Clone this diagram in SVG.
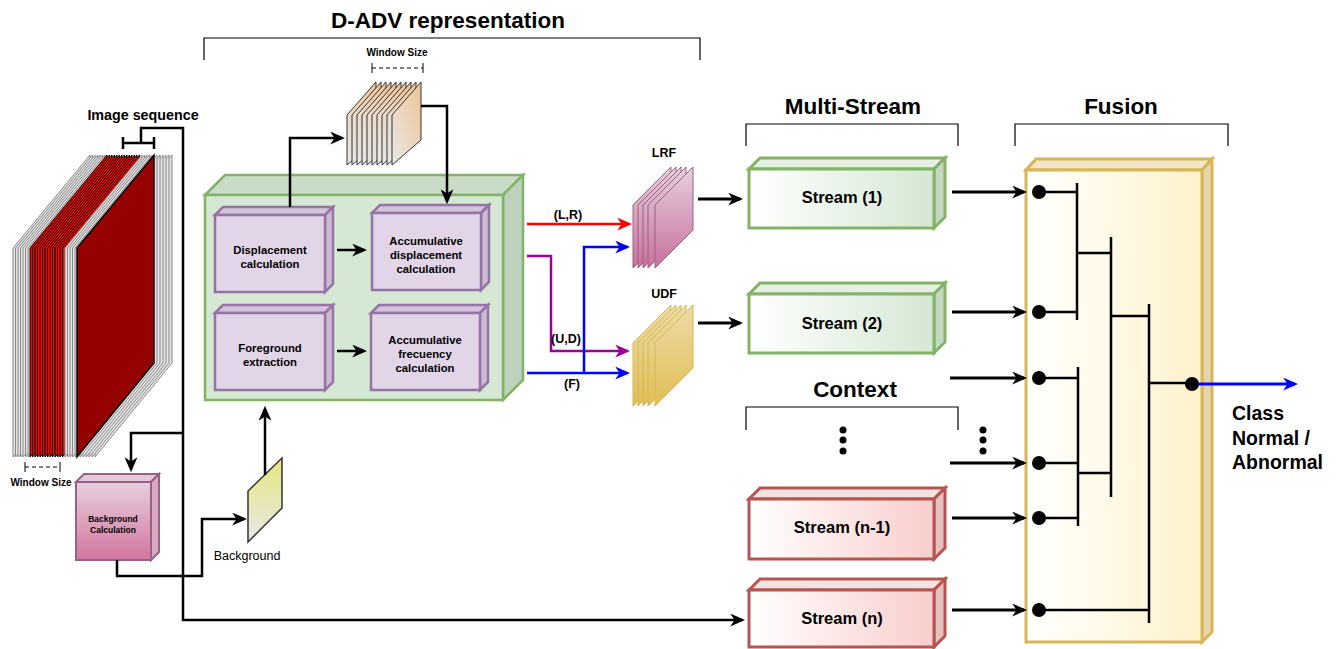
<svg xmlns="http://www.w3.org/2000/svg" width="1339" height="649" viewBox="0 0 1339 649">
<style>
text{font-family:"Liberation Sans",Arial,sans-serif;fill:#000}
.b{font-weight:bold}
.t{font-size:22.5px;font-weight:bold;text-anchor:middle}
.c{text-anchor:middle}
.ln{fill:none;stroke:#000;stroke-width:2.5}
.br{fill:none;stroke:#000;stroke-width:1.2}
.gw{fill:#e4e4e4;stroke:#8a8a8a;stroke-width:1}
.rf{fill:#ff0000;stroke:#000;stroke-width:1}
.pf{stroke:#9673a6;stroke-width:2.5}
.gf{stroke:#82b366;stroke-width:2.5}
.rs{stroke:#b85450;stroke-width:3}
.gs{stroke:#82b366;stroke-width:3}
.st{font-size:16.5px;font-weight:bold;text-anchor:middle}
</style>
<defs>
<marker id="ak" viewBox="0 0 14 12" refX="11" refY="6" markerWidth="15" markerHeight="13" markerUnits="userSpaceOnUse" orient="auto"><path d="M0,0 L14,6 L0,12 L4,6 z" fill="#000"/></marker>
<marker id="ar" viewBox="0 0 14 12" refX="11" refY="6" markerWidth="15" markerHeight="13" markerUnits="userSpaceOnUse" orient="auto"><path d="M0,0 L14,6 L0,12 L4,6 z" fill="#ff0000"/></marker>
<marker id="ab" viewBox="0 0 14 12" refX="11" refY="6" markerWidth="15" markerHeight="13" markerUnits="userSpaceOnUse" orient="auto"><path d="M0,0 L14,6 L0,12 L4,6 z" fill="#0000ff"/></marker>
<marker id="ap" viewBox="0 0 14 12" refX="11" refY="6" markerWidth="15" markerHeight="13" markerUnits="userSpaceOnUse" orient="auto"><path d="M0,0 L14,6 L0,12 L4,6 z" fill="#990099"/></marker>
<linearGradient id="gPeach" x1="1" y1="0" x2="0" y2="1"><stop offset="0" stop-color="#efc394"/><stop offset="1" stop-color="#e8e8e8"/></linearGradient>
<linearGradient id="gLRF" x1="0" y1="0" x2="0" y2="1"><stop offset="0" stop-color="#e6d0de"/><stop offset="1" stop-color="#c9709d"/></linearGradient>
<linearGradient id="gUDF" x1="0" y1="0" x2="0" y2="1"><stop offset="0" stop-color="#ecdca6"/><stop offset="1" stop-color="#e2be55"/></linearGradient>
<linearGradient id="gBGC" x1="0" y1="0" x2="0" y2="1"><stop offset="0" stop-color="#e6d0de"/><stop offset="1" stop-color="#d4749f"/></linearGradient>
<linearGradient id="gBG" x1="0" y1="0" x2="0" y2="1"><stop offset="0" stop-color="#e6e67f"/><stop offset="1" stop-color="#e8e8e8"/></linearGradient>
<linearGradient id="gGreen" x1="0" y1="0" x2="1" y2="0"><stop offset="0" stop-color="#ffffff"/><stop offset="1" stop-color="#d5e8d4"/></linearGradient>
<linearGradient id="gRed" x1="0" y1="0" x2="1" y2="0"><stop offset="0" stop-color="#ffffff"/><stop offset="1" stop-color="#f8cecc"/></linearGradient>
<linearGradient id="gYel" x1="0" y1="0" x2="1" y2="0"><stop offset="0" stop-color="#ffffff"/><stop offset="1" stop-color="#fff2cc"/></linearGradient>
</defs>

<!-- titles and brackets -->
<g id="titles">
<text class="t" x="448" y="28">D-ADV representation</text>
<path class="br" d="M204,60 V38 H700 V60"/>
<text class="t" x="853" y="114">Multi-Stream</text>
<path class="br" d="M746,146 V124 H958 V146"/>
<text class="t" x="1121" y="114">Fusion</text>
<path class="br" d="M1015,146 V124 H1228 V146"/>
<text class="t" x="855" y="397">Context</text>
<path class="br" d="M746,430 V407 H958 V430"/>
<g fill="#000"><circle cx="843" cy="430" r="3.5"/><circle cx="843" cy="440" r="3.5"/><circle cx="843" cy="451" r="3.5"/><circle cx="983" cy="430" r="3.5"/><circle cx="983" cy="440" r="3.5"/><circle cx="983" cy="451" r="3.5"/></g>
</g>

<!-- image sequence -->
<g id="image-sequence">
<g class="gw" stroke="#9a9a9a">
<polygon points="95,248 172,155 172,363 95,457"/>
<polygon points="92,248 169,155 169,363 92,457"/>
<polygon points="89,248 166,155 166,363 89,457"/>
<polygon points="86,248 163,155 163,363 86,457"/>
<polygon points="83,248 160,155 160,363 83,457"/>
<polygon points="80,248 157,155 157,363 80,457"/>
</g>
<g class="gw">
<polygon points="13,248 90,155 90,363 13,457"/>
<polygon points="15.5,248 92.5,155 92.5,363 15.5,457"/>
<polygon points="18,248 95,155 95,363 18,457"/>
<polygon points="20.5,248 97.5,155 97.5,363 20.5,457"/>
<polygon points="23,248 100,155 100,363 23,457"/>
<polygon points="25.5,248 102.5,155 102.5,363 25.5,457"/>
<polygon points="28,248 105,155 105,363 28,457"/>
</g>
<g class="rf">
<polygon points="30,248 107,155 107,363 30,457"/>
<polygon points="32.5,248 109.5,155 109.5,363 32.5,457"/>
<polygon points="35,248 112,155 112,363 35,457"/>
<polygon points="37.5,248 114.5,155 114.5,363 37.5,457"/>
<polygon points="40,248 117,155 117,363 40,457"/>
<polygon points="42.5,248 119.5,155 119.5,363 42.5,457"/>
<polygon points="45,248 122,155 122,363 45,457"/>
<polygon points="47.5,248 124.5,155 124.5,363 47.5,457"/>
<polygon points="50,248 127,155 127,363 50,457"/>
<polygon points="52.5,248 129.5,155 129.5,363 52.5,457"/>
<polygon points="55,248 132,155 132,363 55,457"/>
<polygon points="57.5,248 134.5,155 134.5,363 57.5,457"/>
<polygon points="60,248 137,155 137,363 60,457"/>
<polygon points="62.5,248 139.5,155 139.5,363 62.5,457"/>
</g>
<g class="gw">
<polygon points="65,248 142,155 142,363 65,457"/>
<polygon points="67.5,248 144.5,155 144.5,363 67.5,457"/>
<polygon points="70,248 147,155 147,363 70,457"/>
<polygon points="72.5,248 149.5,155 149.5,363 72.5,457"/>
<polygon points="75,248 152,155 152,363 75,457"/>
</g>
<polygon points="77,248 154,155 154,363 77,457" fill="#950000" stroke="#000" stroke-width="1.5"/>
<text class="b c" x="143" y="120" font-size="14.3">Image sequence</text>
<path class="ln" d="M123,143 H154 M123,137 V149 M154,137 V149"/>
<path d="M25,467 H60" fill="none" stroke="#000" stroke-width="1" stroke-dasharray="4,3"/>
<path d="M25,462 V472 M60,462 V472" fill="none" stroke="#000" stroke-width="1"/>
<text class="b c" x="41" y="486" font-size="10">Window Size</text>
</g>

<!-- window stack -->
<g id="window-stack" fill="url(#gPeach)" stroke="#333" stroke-width="1">
<polygon points="347,115 376,82 376,140 347,165"/>
<polygon points="352,115 381,82 381,140 352,165"/>
<polygon points="357,115 386,82 386,140 357,165"/>
<polygon points="362,115 391,82 391,140 362,165"/>
<polygon points="367,115 396,82 396,140 367,165"/>
<polygon points="372,115 401,82 401,140 372,165"/>
<polygon points="377,115 406,82 406,140 377,165"/>
<polygon points="382,115 411,82 411,140 382,165"/>
<polygon points="387,115 416,82 416,140 387,165"/>
<polygon points="392,115 421,82 421,140 392,165"/>
</g>
<g id="window-size-top">
<text class="b c" x="397" y="56" font-size="10">Window Size</text>
<path d="M372,68 H423" fill="none" stroke="#000" stroke-width="1" stroke-dasharray="4,3"/>
<path d="M372,63 V73 M423,63 V73" fill="none" stroke="#000" stroke-width="1"/>
</g>

<!-- green D-ADV box -->
<g id="dadv-box" class="gf">
<polygon points="205,195 225,175 523,175 503,195" fill="#c9dcc8"/>
<polygon points="503,195 523,175 523,380 503,400" fill="#bdd2bc"/>
<rect x="205" y="195" width="298" height="205" fill="#d5e8d4"/>
</g>
<g id="displacement" class="pf">
<polygon points="215,215 223,207 333,207 325,215" fill="#d3c4da"/>
<polygon points="325,215 333,207 333,284 325,292" fill="#cbbcd2"/>
<rect x="215" y="215" width="110" height="77" fill="#e1d5e7"/>
<text class="b c" x="270" y="254" font-size="11.3" stroke="none">Displacement</text>
<text class="b c" x="270" y="268" font-size="11.3" stroke="none">calculation</text>
</g>
<g id="acc-displacement" class="pf">
<polygon points="372,213 380,205 489,205 481,213" fill="#d3c4da"/>
<polygon points="481,213 489,205 489,282 481,290" fill="#cbbcd2"/>
<rect x="372" y="213" width="109" height="77" fill="#e1d5e7"/>
<text class="b c" x="426" y="245" font-size="11.3" stroke="none">Accumulative</text>
<text class="b c" x="426" y="259" font-size="11.3" stroke="none">displacement</text>
<text class="b c" x="426" y="273" font-size="11.3" stroke="none">calculation</text>
</g>
<g id="foreground" class="pf">
<polygon points="215,313 223,305 333,305 325,313" fill="#d3c4da"/>
<polygon points="325,313 333,305 333,382 325,390" fill="#cbbcd2"/>
<rect x="215" y="313" width="110" height="77" fill="#e1d5e7"/>
<text class="b c" x="270" y="352" font-size="11.3" stroke="none">Foreground</text>
<text class="b c" x="270" y="366" font-size="11.3" stroke="none">extraction</text>
</g>
<g id="acc-frequency" class="pf">
<polygon points="371,313 379,305 488,305 480,313" fill="#d3c4da"/>
<polygon points="480,313 488,305 488,382 480,390" fill="#cbbcd2"/>
<rect x="371" y="313" width="109" height="77" fill="#e1d5e7"/>
<text class="b c" x="425" y="344" font-size="11.3" stroke="none">Accumulative</text>
<text class="b c" x="425" y="358" font-size="11.3" stroke="none">frecuency</text>
<text class="b c" x="425" y="372" font-size="11.3" stroke="none">calculation</text>
</g>

<!-- LRF / UDF stacks -->
<g id="lrf" fill="url(#gLRF)" stroke="#996185" stroke-width="1">
<polygon points="633,205 671,167 671,230 633,268"/>
<polygon points="638,205 676,167 676,230 638,268"/>
<polygon points="643,205 681,167 681,230 643,268"/>
<polygon points="648,205 686,167 686,230 648,268"/>
<polygon points="655,205 693,167 693,230 655,268"/>
<text class="b c" x="664" y="157" font-size="12.5" fill="#000" stroke="none">LRF</text>
</g>
<g id="udf" fill="url(#gUDF)" stroke="#d6b656" stroke-width="1">
<polygon points="633,343 671,305 671,368 633,406"/>
<polygon points="638,343 676,305 676,368 638,406"/>
<polygon points="643,343 681,305 681,368 643,406"/>
<polygon points="648,343 686,305 686,368 648,406"/>
<polygon points="655,343 693,305 693,368 655,406"/>
<text class="b c" x="664" y="298" font-size="12.5" fill="#000" stroke="none">UDF</text>
</g>

<!-- background calc and background -->
<g id="bg-calc" stroke="#996185" stroke-width="2">
<polygon points="76,482 84,474 159,474 151,482" fill="#e3c8d8"/>
<polygon points="151,482 159,474 159,552 151,560" fill="#d9a9c2"/>
<rect x="76" y="482" width="75" height="78" fill="url(#gBGC)"/>
<text class="b c" x="113" y="522" font-size="8.5" stroke="none">Background</text>
<text class="b c" x="113" y="533" font-size="8.5" stroke="none">Calculation</text>
</g>
<g id="background">
<polygon points="248,491 282,458 282,508 248,542" fill="url(#gBG)" stroke="#333" stroke-width="1.5"/>
<text class="c" x="247" y="560" font-size="12.5">Background</text>
</g>

<!-- streams -->
<g id="stream1" class="gs">
<polygon points="749,169 760,158 945,158 934,169" fill="#e6efe5"/>
<polygon points="934,169 945,158 945,217 934,228" fill="#c4d8c3"/>
<rect x="749" y="169" width="185" height="59" fill="url(#gGreen)"/>
<text class="st" x="842" y="203" stroke="none">Stream (1)</text>
</g>
<g id="stream2" class="gs">
<polygon points="749,294 760,283 945,283 934,294" fill="#e6efe5"/>
<polygon points="934,294 945,283 945,342 934,353" fill="#c4d8c3"/>
<rect x="749" y="294" width="185" height="59" fill="url(#gGreen)"/>
<text class="st" x="842" y="329" stroke="none">Stream (2)</text>
</g>
<g id="stream-n-1" class="rs">
<polygon points="749,499 760,488 945,488 934,499" fill="#f3e3e3"/>
<polygon points="934,499 945,488 945,548 934,559" fill="#e5c1c0"/>
<rect x="749" y="499" width="185" height="60" fill="url(#gRed)"/>
<text class="st" x="842" y="533" stroke="none">Stream (n-1)</text>
</g>
<g id="stream-n" class="rs">
<polygon points="749,590 760,579 945,579 934,590" fill="#f3e3e3"/>
<polygon points="934,590 945,579 945,636 934,647" fill="#e5c1c0"/>
<rect x="749" y="590" width="185" height="57" fill="url(#gRed)"/>
<text class="st" x="842" y="624" stroke="none">Stream (n)</text>
</g>

<!-- fusion -->
<g id="fusion" stroke="#d6b656" stroke-width="3">
<polygon points="1026,170 1036,159 1212,159 1202,170" fill="#f2e6c6"/>
<polygon points="1202,170 1212,159 1212,632 1202,642" fill="#e6d6ad"/>
<rect x="1026" y="170" width="176" height="472" fill="url(#gYel)"/>
</g>
<g id="fusion-tree">
<path class="ln" d="M1039,192 H1077 M1077,183 V320 M1039,312 H1077 M1077,253 H1111 M1111,237 V497 M1039,378 H1078 M1039,463 H1078 M1039,518 H1078 M1078,367 V526 M1078,473 H1111 M1111,316 H1149 M1149,304 V623 M1039,610 H1149 M1149,383 H1192"/>
<g fill="#000"><circle cx="1039" cy="192" r="7"/><circle cx="1039" cy="312" r="7"/><circle cx="1039" cy="378" r="7"/><circle cx="1039" cy="463" r="7"/><circle cx="1039" cy="518" r="7"/><circle cx="1039" cy="610" r="7"/><circle cx="1192" cy="384" r="7"/></g>
</g>
<g id="output-label">
<text class="b" x="1232" y="420" font-size="19.5">Class</text>
<text class="b" x="1232" y="445" font-size="19.5">Normal /</text>
<text class="b" x="1232" y="469" font-size="19.5">Abnormal</text>
</g>

<!-- connectors -->
<g id="connectors" fill="none" stroke-width="2.5">
<path stroke="#000" d="M141,143 V128 H183 V620 H742" marker-end="url(#ak)"/>
<path stroke="#000" d="M183,433 H131 V469" marker-end="url(#ak)"/>
<path stroke="#000" d="M117,560 V576 H202 V519 H244" marker-end="url(#ak)"/>
<path stroke="#000" d="M265,475 V409" marker-end="url(#ak)"/>
<path stroke="#000" d="M290,207 V138 H342" marker-end="url(#ak)"/>
<path stroke="#000" d="M421,106 H447 V201" marker-end="url(#ak)"/>
<path stroke="#000" d="M337,250 H364" marker-end="url(#ak)"/>
<path stroke="#000" d="M337,351 H364" marker-end="url(#ak)"/>
<path stroke="#ff0000" d="M527,224 H629" marker-end="url(#ar)"/>
<path stroke="#990099" d="M527,256 H551 V351 H627" marker-end="url(#ap)"/>
<path stroke="#0000ff" d="M527,373 H627" marker-end="url(#ab)"/>
<path stroke="#0000ff" d="M584,373 V247 H627" marker-end="url(#ab)"/>
<path stroke="#000" stroke-width="3" d="M698,199 H740" marker-end="url(#ak)"/>
<path stroke="#000" stroke-width="3" d="M698,323 H740" marker-end="url(#ak)"/>
<path stroke="#000" stroke-width="3" d="M952,192 H1024" marker-end="url(#ak)"/>
<path stroke="#000" stroke-width="3" d="M952,312 H1024" marker-end="url(#ak)"/>
<path stroke="#000" stroke-width="3" d="M950,378 H1024" marker-end="url(#ak)"/>
<path stroke="#000" stroke-width="3" d="M950,463 H1024" marker-end="url(#ak)"/>
<path stroke="#000" stroke-width="3" d="M952,518 H1024" marker-end="url(#ak)"/>
<path stroke="#000" stroke-width="3" d="M952,610 H1024" marker-end="url(#ak)"/>
<path stroke="#0000ff" stroke-width="3" d="M1199,384 H1295" marker-end="url(#ab)"/>
<g font-size="12.5" font-weight="bold" fill="#000" stroke="none" font-family="Liberation Sans, Arial, sans-serif" text-anchor="middle">
<text x="568" y="219">(L,R)</text>
<text x="566" y="343">(U,D)</text>
<text x="572" y="388">(F)</text>
</g>
</g>
</svg>
